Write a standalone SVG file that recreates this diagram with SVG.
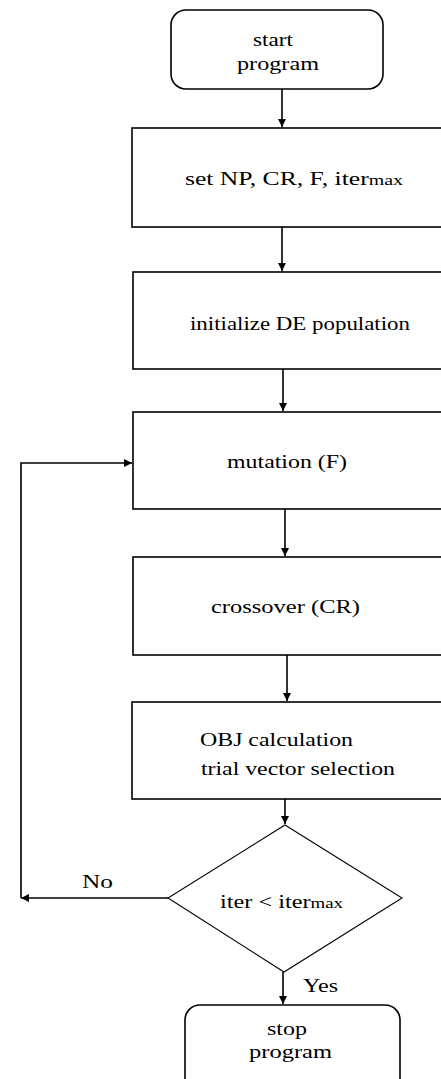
<svg xmlns="http://www.w3.org/2000/svg" width="441" height="1079" viewBox="0 0 441 1079" font-family="Liberation Serif, Times New Roman, Noto Serif, DejaVu Serif, serif">
<style>
.box{fill:#fff;stroke:#000;stroke-width:1.6}
.dia{fill:#fff;stroke:#000;stroke-width:1.1}
.t{font-size:18px;fill:#000}
.s{font-size:14px}
.c{fill:none;stroke:#000;stroke-width:1.6}
</style>
<defs>
<marker id="ah" viewBox="0 0 10 10" refX="10" refY="5" markerWidth="8" markerHeight="8" markerUnits="userSpaceOnUse" orient="auto">
<path d="M0,0 L10,5 L0,10 z" fill="#000"/>
</marker>
</defs>
<rect width="441" height="1079" fill="#fff"/>
<g id="connectors">
<line class="c" x1="282" y1="89" x2="282" y2="127" marker-end="url(#ah)"/>
<line class="c" x1="282" y1="227" x2="282" y2="271" marker-end="url(#ah)"/>
<line class="c" x1="283" y1="369" x2="283" y2="411" marker-end="url(#ah)"/>
<line class="c" x1="285" y1="509" x2="285" y2="556" marker-end="url(#ah)"/>
<line class="c" x1="287" y1="655" x2="287" y2="701" marker-end="url(#ah)"/>
<line class="c" x1="285" y1="799" x2="285" y2="824" marker-end="url(#ah)"/>
<line class="c" x1="283" y1="972" x2="283" y2="1004" marker-end="url(#ah)"/>
<path class="c" d="M168,898 L21,898" marker-end="url(#ah)"/>
<path class="c" d="M21,898 L21,463 L132,463" marker-end="url(#ah)"/>
<text class="t" x="82" y="888" textLength="31" lengthAdjust="spacingAndGlyphs">No</text>
<text class="t" x="303" y="992" textLength="35" lengthAdjust="spacingAndGlyphs">Yes</text>
</g>
<g id="start">
<rect class="box" x="171" y="10" width="212" height="79" rx="15"/>
<text class="t" x="253" y="46" textLength="40" lengthAdjust="spacingAndGlyphs">start</text>
<text class="t" x="237" y="70" textLength="82" lengthAdjust="spacingAndGlyphs">program</text>
</g>
<g id="setparams">
<rect class="box" x="132" y="128" width="330" height="99"/>
<text class="t" x="185" y="185" textLength="218" lengthAdjust="spacingAndGlyphs">set NP, CR, F, iter<tspan class="s">max</tspan></text>
</g>
<g id="init">
<rect class="box" x="133" y="272" width="330" height="97"/>
<text class="t" x="190" y="330" textLength="220" lengthAdjust="spacingAndGlyphs">initialize DE population</text>
</g>
<g id="mutation">
<rect class="box" x="133" y="412" width="330" height="97"/>
<text class="t" x="227" y="468" textLength="120" lengthAdjust="spacingAndGlyphs">mutation (F)</text>
</g>
<g id="crossover">
<rect class="box" x="133" y="557" width="330" height="98"/>
<text class="t" x="211" y="613" textLength="149" lengthAdjust="spacingAndGlyphs">crossover (CR)</text>
</g>
<g id="selection">
<rect class="box" x="132" y="702" width="330" height="97"/>
<text class="t" x="200" y="746" textLength="153" lengthAdjust="spacingAndGlyphs">OBJ calculation</text>
<text class="t" x="201" y="775" textLength="194" lengthAdjust="spacingAndGlyphs">trial vector selection</text>
</g>
<g id="decision">
<polygon class="dia" points="285,825 402,898 284,972 168,898"/>
<text class="t" x="220" y="908" textLength="123" lengthAdjust="spacingAndGlyphs">iter &lt; iter<tspan class="s">max</tspan></text>
</g>
<g id="stop">
<rect class="box" x="185" y="1005" width="215" height="95" rx="15"/>
<text class="t" x="267" y="1035" textLength="40" lengthAdjust="spacingAndGlyphs">stop</text>
<text class="t" x="249" y="1058" textLength="83" lengthAdjust="spacingAndGlyphs">program</text>
</g>
</svg>
